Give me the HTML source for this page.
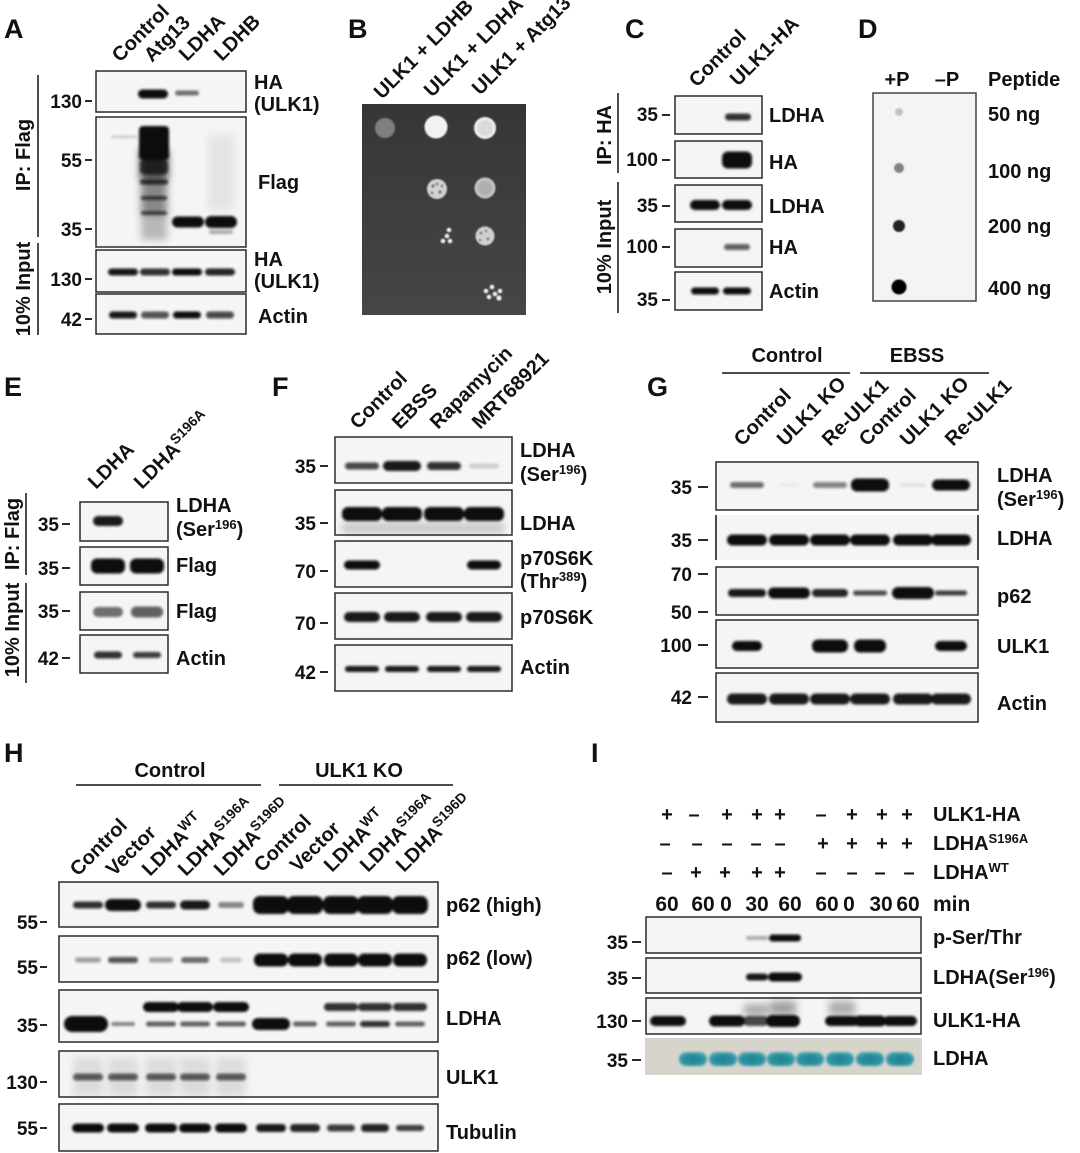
<!DOCTYPE html>
<html><head><meta charset="utf-8"><style>
html,body{margin:0;padding:0;background:#fff;}
svg{display:block;}
text{font-family:"Liberation Sans",Arial,sans-serif;font-weight:bold;font-size:20px;fill:#111;}
.P{font-size:27px;}
.m{font-size:19px;}
.bx{fill:#f5f5f5;stroke:#2a2a2a;stroke-width:1.5;}
.tk{stroke:#111;stroke-width:1.8;}
.ln{stroke:#111;stroke-width:1.5;}
.k rect{fill:#0a0a0a;}
</style></head><body>
<svg width="1080" height="1153" viewBox="0 0 1080 1153" xmlns="http://www.w3.org/2000/svg">
<defs>
<filter id="bl" filterUnits="userSpaceOnUse" x="0" y="0" width="1080" height="1153"><feGaussianBlur stdDeviation="1.3"/></filter>
<filter id="bs" filterUnits="userSpaceOnUse" x="0" y="0" width="1080" height="1153"><feGaussianBlur stdDeviation="4"/></filter>
<filter id="bd" filterUnits="userSpaceOnUse" x="0" y="0" width="1080" height="1153"><feGaussianBlur stdDeviation="0.7"/></filter>
<linearGradient id="pl" x1="0" y1="0" x2="0" y2="1"><stop offset="0" stop-color="#363636"/><stop offset="1" stop-color="#464646"/></linearGradient>
<radialGradient id="tg" cx="0.5" cy="0.55" r="0.6"><stop offset="0" stop-color="#1d7f8f"/><stop offset="0.7" stop-color="#2f95a3"/><stop offset="1" stop-color="#5fb0ba"/></radialGradient>
</defs>

<!-- ================= A ================= -->
<text class="P" x="4" y="38">A</text>
<text transform="translate(120,63) rotate(-45)">Control</text>
<text transform="translate(152,63) rotate(-45)">Atg13</text>
<text transform="translate(187,62) rotate(-45)">LDHA</text>
<text transform="translate(222,62) rotate(-45)">LDHB</text>
<rect class="bx" x="96" y="71" width="150" height="41"/>
<rect class="bx" x="96" y="117" width="150" height="130"/>
<rect class="bx" x="96" y="250" width="150" height="42"/>
<rect class="bx" x="96" y="294" width="150" height="40"/>
<g filter="url(#bs)" class="k">
<rect x="208" y="135" width="26" height="75" opacity="0.07"/>
<rect x="140" y="150" width="28" height="30" opacity="0.75"/>
<rect x="141" y="180" width="26" height="35" opacity="0.45"/>
<rect x="141" y="215" width="26" height="25" opacity="0.25"/>
</g>
<g filter="url(#bl)" class="k">
<rect x="138" y="89.5" width="30" height="9" rx="4.5"/>
<rect x="175" y="90.5" width="24" height="5" rx="2.5" opacity="0.55"/>
<rect x="111" y="135.5" width="26" height="3" rx="1.5" opacity="0.15"/>
<rect x="139" y="126" width="30" height="34" rx="4"/>
<rect x="140" y="160" width="28" height="14" rx="4" opacity="0.75"/>
<rect x="140" y="179.5" width="28" height="5" rx="2.5" opacity="0.75"/>
<rect x="141" y="196" width="26" height="4" rx="2" opacity="0.7"/>
<rect x="141" y="211" width="26" height="4" rx="2" opacity="0.6"/>
<rect x="172" y="216.5" width="32" height="11" rx="5.5"/>
<rect x="205" y="216" width="32" height="12" rx="6"/>
<rect x="209" y="230" width="24" height="4" rx="2" opacity="0.3"/>
<rect x="108" y="268.5" width="30" height="7" rx="3.5" opacity="0.95"/>
<rect x="140" y="268.5" width="30" height="7" rx="3.5" opacity="0.85"/>
<rect x="172" y="268.5" width="30" height="7" rx="3.5"/>
<rect x="205" y="268.5" width="30" height="7" rx="3.5" opacity="0.9"/>
<rect x="109" y="311.5" width="28" height="7" rx="3.5" opacity="0.95"/>
<rect x="141" y="311.5" width="28" height="7" rx="3.5" opacity="0.7"/>
<rect x="173" y="311.5" width="28" height="7" rx="3.5"/>
<rect x="206" y="311.5" width="28" height="7" rx="3.5" opacity="0.75"/>
</g>
<text class="m" x="82" y="108" text-anchor="end">130</text><line class="tk" x1="85" y1="101" x2="92" y2="101"/>
<text class="m" x="82" y="167" text-anchor="end">55</text><line class="tk" x1="85" y1="160" x2="92" y2="160"/>
<text class="m" x="82" y="236" text-anchor="end">35</text><line class="tk" x1="85" y1="229" x2="92" y2="229"/>
<text class="m" x="82" y="286" text-anchor="end">130</text><line class="tk" x1="85" y1="279" x2="92" y2="279"/>
<text class="m" x="82" y="326" text-anchor="end">42</text><line class="tk" x1="85" y1="319" x2="92" y2="319"/>
<line class="ln" x1="38" y1="75" x2="38" y2="237"/>
<line class="ln" x1="38" y1="243" x2="38" y2="335"/>
<text transform="translate(30,155) rotate(-90)" text-anchor="middle">IP: Flag</text>
<text transform="translate(30,289) rotate(-90)" text-anchor="middle">10% Input</text>
<text x="254" y="89">HA</text>
<text x="254" y="111">(ULK1)</text>
<text x="258" y="189">Flag</text>
<text x="254" y="266">HA</text>
<text x="254" y="288">(ULK1)</text>
<text x="258" y="323">Actin</text>

<!-- ================= B ================= -->
<text class="P" x="348" y="38">B</text>
<text transform="translate(382,100) rotate(-45)">ULK1 + LDHB</text>
<text transform="translate(432,98) rotate(-45)">ULK1 + LDHA</text>
<text transform="translate(480,96) rotate(-45)">ULK1 + Atg13</text>
<rect x="362" y="104" width="164" height="211" fill="url(#pl)"/>
<g filter="url(#bd)">
<circle cx="385" cy="128" r="10" fill="#7f7f7f"/>
<circle cx="436" cy="127" r="11.5" fill="#f2f2f2"/>
<circle cx="485" cy="128" r="11" fill="#efefef"/>
<circle cx="485" cy="128" r="8" fill="#dadada"/>
<circle cx="437" cy="189" r="10" fill="#d2d2d2"/>
<circle cx="433" cy="186" r="1.6" fill="#666"/><circle cx="440" cy="192" r="1.6" fill="#666"/><circle cx="437" cy="184" r="1.4" fill="#777"/><circle cx="432" cy="193" r="1.4" fill="#777"/><circle cx="442" cy="186" r="1.4" fill="#777"/>
<circle cx="485" cy="188" r="10.5" fill="#c4c4c4"/>
<circle cx="485" cy="188" r="7.5" fill="#b0b0b0"/>
<circle cx="449" cy="230" r="2.3" fill="#eee"/><circle cx="447" cy="236" r="2.3" fill="#eee"/><circle cx="443" cy="241" r="2.3" fill="#eee"/><circle cx="450" cy="241" r="2.3" fill="#eee"/>
<circle cx="485" cy="236" r="9.5" fill="#d0d0d0"/>
<circle cx="481" cy="233" r="1.5" fill="#777"/><circle cx="488" cy="239" r="1.5" fill="#777"/><circle cx="486" cy="231" r="1.3" fill="#777"/><circle cx="480" cy="240" r="1.3" fill="#777"/>
<circle cx="486" cy="291" r="2.3" fill="#eee"/><circle cx="492" cy="287" r="2.3" fill="#eee"/><circle cx="495" cy="294" r="2.3" fill="#eee"/><circle cx="489" cy="297" r="2.3" fill="#eee"/><circle cx="499" cy="298" r="2.6" fill="#eee"/><circle cx="500" cy="291" r="2.3" fill="#eee"/>
</g>

<!-- ================= C ================= -->
<text class="P" x="625" y="38">C</text>
<text transform="translate(697,88) rotate(-45)">Control</text>
<text transform="translate(738,87) rotate(-45)">ULK1-HA</text>
<rect class="bx" x="675" y="96" width="87" height="38"/>
<rect class="bx" x="675" y="141" width="87" height="37"/>
<rect class="bx" x="675" y="185" width="87" height="37"/>
<rect class="bx" x="675" y="229" width="87" height="38"/>
<rect class="bx" x="675" y="272" width="87" height="38"/>
<g filter="url(#bl)" class="k">
<rect x="725" y="113.5" width="26" height="7" rx="3.5" opacity="0.85"/>
<rect x="722" y="151.5" width="30" height="17" rx="6"/>
<rect x="690" y="200" width="30" height="10" rx="5"/>
<rect x="722" y="200" width="30" height="10" rx="5"/>
<rect x="724" y="244" width="26" height="6" rx="3" opacity="0.65"/>
<rect x="691" y="287.5" width="28" height="7" rx="3.5"/>
<rect x="723" y="287.5" width="28" height="7" rx="3.5"/>
</g>
<text class="m" x="658" y="121" text-anchor="end">35</text><line class="tk" x1="662" y1="115" x2="670" y2="115"/>
<text class="m" x="658" y="166" text-anchor="end">100</text><line class="tk" x1="662" y1="160" x2="670" y2="160"/>
<text class="m" x="658" y="212" text-anchor="end">35</text><line class="tk" x1="662" y1="206" x2="670" y2="206"/>
<text class="m" x="658" y="253" text-anchor="end">100</text><line class="tk" x1="662" y1="247" x2="670" y2="247"/>
<text class="m" x="658" y="306" text-anchor="end">35</text><line class="tk" x1="662" y1="300" x2="670" y2="300"/>
<line class="ln" x1="618" y1="93" x2="618" y2="173"/>
<line class="ln" x1="618" y1="182" x2="618" y2="313"/>
<text transform="translate(611,135) rotate(-90)" text-anchor="middle">IP: HA</text>
<text transform="translate(611,247) rotate(-90)" text-anchor="middle">10% Input</text>
<text x="769" y="122">LDHA</text>
<text x="769" y="169">HA</text>
<text x="769" y="213">LDHA</text>
<text x="769" y="254">HA</text>
<text x="769" y="298">Actin</text>

<!-- ================= D ================= -->
<text class="P" x="858" y="38">D</text>
<text x="897" y="86" text-anchor="middle">+P</text>
<text x="947" y="86" text-anchor="middle">–P</text>
<text x="988" y="86">Peptide</text>
<rect x="873" y="93" width="103" height="208" fill="#f4f4f4" stroke="#444" stroke-width="1.5"/>
<g filter="url(#bd)">
<circle cx="899" cy="112" r="4" fill="#999" opacity="0.55"/>
<circle cx="899" cy="168" r="5" fill="#666" opacity="0.8"/>
<circle cx="899" cy="226" r="6" fill="#222"/>
<circle cx="899" cy="287" r="7.5" fill="#000"/>
</g>
<text x="988" y="121">50 ng</text>
<text x="988" y="178">100 ng</text>
<text x="988" y="233">200 ng</text>
<text x="988" y="295">400 ng</text>

<!-- ================= E ================= -->
<text class="P" x="4" y="396">E</text>
<text transform="translate(96,490) rotate(-45)">LDHA</text>
<text transform="translate(142,490) rotate(-45)">LDHA<tspan font-size="14" dy="-8">S196A</tspan></text>
<rect class="bx" x="80" y="502" width="88" height="39"/>
<rect class="bx" x="80" y="547" width="88" height="38"/>
<rect class="bx" x="80" y="592" width="88" height="38"/>
<rect class="bx" x="80" y="635" width="88" height="38"/>
<g filter="url(#bl)" class="k">
<rect x="93" y="516" width="30" height="10" rx="5" opacity="0.95"/>
<rect x="91" y="558.5" width="34" height="15" rx="6"/>
<rect x="130" y="558.5" width="34" height="15" rx="6"/>
<rect x="93" y="607" width="30" height="10" rx="5" opacity="0.55"/>
<rect x="131" y="606.5" width="32" height="11" rx="5" opacity="0.65"/>
<rect x="94" y="651.5" width="28" height="7" rx="3.5" opacity="0.85"/>
<rect x="133" y="652" width="28" height="6" rx="3" opacity="0.8"/>
</g>
<text class="m" x="59" y="531" text-anchor="end">35</text><line class="tk" x1="62" y1="524" x2="70" y2="524"/>
<text class="m" x="59" y="575" text-anchor="end">35</text><line class="tk" x1="62" y1="568" x2="70" y2="568"/>
<text class="m" x="59" y="618" text-anchor="end">35</text><line class="tk" x1="62" y1="611" x2="70" y2="611"/>
<text class="m" x="59" y="665" text-anchor="end">42</text><line class="tk" x1="62" y1="658" x2="70" y2="658"/>
<line class="ln" x1="26" y1="493" x2="26" y2="575"/>
<line class="ln" x1="26" y1="583" x2="26" y2="683"/>
<text transform="translate(19,534) rotate(-90)" text-anchor="middle">IP: Flag</text>
<text transform="translate(19,630) rotate(-90)" text-anchor="middle">10% Input</text>
<text x="176" y="512">LDHA</text>
<text x="176" y="536">(Ser<tspan font-size="13" dy="-7">196</tspan><tspan dy="7">)</tspan></text>
<text x="176" y="572">Flag</text>
<text x="176" y="618">Flag</text>
<text x="176" y="665">Actin</text>

<!-- ================= F ================= -->
<text class="P" x="272" y="396">F</text>
<text transform="translate(358,430) rotate(-45)">Control</text>
<text transform="translate(400,430) rotate(-45)">EBSS</text>
<text transform="translate(438,430) rotate(-45)">Rapamycin</text>
<text transform="translate(480,430) rotate(-45)">MRT68921</text>
<rect class="bx" x="335" y="437" width="177" height="46"/>
<rect class="bx" x="335" y="490" width="177" height="45"/>
<rect class="bx" x="335" y="541" width="177" height="46"/>
<rect class="bx" x="335" y="593" width="177" height="46"/>
<rect class="bx" x="335" y="645" width="177" height="46"/>
<g filter="url(#bs)" class="k">
<rect x="342" y="523" width="162" height="10" opacity="0.2"/>
</g>
<g filter="url(#bl)" class="k">
<rect x="345" y="462.5" width="34" height="7" rx="3.5" opacity="0.75"/>
<rect x="383" y="461" width="38" height="10" rx="5" opacity="0.95"/>
<rect x="427" y="462" width="34" height="8" rx="4" opacity="0.85"/>
<rect x="469" y="463.5" width="30" height="5" rx="2.5" opacity="0.15"/>
<rect x="342" y="507" width="40" height="14" rx="6"/>
<rect x="382" y="507" width="40" height="14" rx="6"/>
<rect x="424" y="507" width="40" height="14" rx="6"/>
<rect x="464" y="507" width="40" height="14" rx="6"/>
<rect x="344" y="560.5" width="36" height="9" rx="4.5"/>
<rect x="467" y="560.5" width="34" height="9" rx="4.5"/>
<rect x="344" y="612" width="36" height="10" rx="5" opacity="0.95"/>
<rect x="384" y="612" width="36" height="10" rx="5" opacity="0.95"/>
<rect x="426" y="612" width="36" height="10" rx="5" opacity="0.95"/>
<rect x="466" y="612" width="36" height="10" rx="5" opacity="0.95"/>
<rect x="345" y="666" width="34" height="6" rx="3" opacity="0.95"/>
<rect x="385" y="666" width="34" height="6" rx="3" opacity="0.95"/>
<rect x="427" y="666" width="34" height="6" rx="3" opacity="0.95"/>
<rect x="467" y="666" width="34" height="6" rx="3" opacity="0.95"/>
</g>
<text class="m" x="316" y="473" text-anchor="end">35</text><line class="tk" x1="320" y1="466" x2="328" y2="466"/>
<text class="m" x="316" y="530" text-anchor="end">35</text><line class="tk" x1="320" y1="523" x2="328" y2="523"/>
<text class="m" x="316" y="578" text-anchor="end">70</text><line class="tk" x1="320" y1="571" x2="328" y2="571"/>
<text class="m" x="316" y="630" text-anchor="end">70</text><line class="tk" x1="320" y1="623" x2="328" y2="623"/>
<text class="m" x="316" y="679" text-anchor="end">42</text><line class="tk" x1="320" y1="672" x2="328" y2="672"/>
<text x="520" y="457">LDHA</text>
<text x="520" y="481">(Ser<tspan font-size="13" dy="-7">196</tspan><tspan dy="7">)</tspan></text>
<text x="520" y="530">LDHA</text>
<text x="520" y="565">p70S6K</text>
<text x="520" y="588">(Thr<tspan font-size="13" dy="-7">389</tspan><tspan dy="7">)</tspan></text>
<text x="520" y="624">p70S6K</text>
<text x="520" y="674">Actin</text>

<!-- ================= G ================= -->
<text class="P" x="647" y="396">G</text>
<text x="787" y="362" text-anchor="middle">Control</text>
<line class="ln" x1="722" y1="373" x2="850" y2="373"/>
<text x="917" y="362" text-anchor="middle">EBSS</text>
<line class="ln" x1="860" y1="373" x2="989" y2="373"/>
<text transform="translate(742,447) rotate(-45)">Control</text>
<text transform="translate(785,447) rotate(-45)">ULK1 KO</text>
<text transform="translate(830,447) rotate(-45)">Re-ULK1</text>
<text transform="translate(867,447) rotate(-45)">Control</text>
<text transform="translate(908,447) rotate(-45)">ULK1 KO</text>
<text transform="translate(953,447) rotate(-45)">Re-ULK1</text>
<rect class="bx" x="716" y="462" width="262" height="48"/>
<rect x="716" y="515" width="262" height="45" fill="#f5f5f5"/>
<line class="ln" x1="716" y1="515" x2="716" y2="560"/>
<line class="ln" x1="978" y1="515" x2="978" y2="560"/>
<rect class="bx" x="716" y="567" width="262" height="48"/>
<rect class="bx" x="716" y="620" width="262" height="48"/>
<rect class="bx" x="716" y="673" width="262" height="49"/>
<g filter="url(#bl)" class="k">
<rect x="730" y="482" width="34" height="6" rx="3" opacity="0.55"/>
<rect x="779" y="483.5" width="20" height="3" rx="1.5" opacity="0.05"/>
<rect x="813" y="482" width="34" height="6" rx="3" opacity="0.45"/>
<rect x="851" y="478.5" width="38" height="13" rx="6"/>
<rect x="900" y="483" width="26" height="4" rx="2" opacity="0.08"/>
<rect x="932" y="479.5" width="38" height="11" rx="5.5"/>
<rect x="727" y="534.5" width="40" height="11" rx="5.5"/>
<rect x="769" y="534.5" width="40" height="11" rx="5.5"/>
<rect x="810" y="534.5" width="40" height="11" rx="5.5"/>
<rect x="850" y="534.5" width="40" height="11" rx="5.5"/>
<rect x="893" y="534.5" width="40" height="11" rx="5.5"/>
<rect x="931" y="534.5" width="40" height="11" rx="5.5"/>
<rect x="728" y="589" width="38" height="8" rx="4" opacity="0.95"/>
<rect x="768" y="587.5" width="42" height="11" rx="5.5"/>
<rect x="812" y="589" width="36" height="8" rx="4" opacity="0.9"/>
<rect x="853" y="590.5" width="34" height="5" rx="2.5" opacity="0.75"/>
<rect x="892" y="587" width="42" height="12" rx="6"/>
<rect x="935" y="590.5" width="32" height="5" rx="2.5" opacity="0.8"/>
<rect x="732" y="641" width="30" height="10" rx="5"/>
<rect x="812" y="639.5" width="36" height="13" rx="6"/>
<rect x="854" y="639.5" width="32" height="13" rx="6"/>
<rect x="935" y="641" width="32" height="10" rx="5"/>
<rect x="727" y="693.5" width="40" height="11" rx="5.5" opacity="0.95"/>
<rect x="769" y="693.5" width="40" height="11" rx="5.5" opacity="0.95"/>
<rect x="810" y="693.5" width="40" height="11" rx="5.5" opacity="0.95"/>
<rect x="850" y="693.5" width="40" height="11" rx="5.5" opacity="0.95"/>
<rect x="893" y="693.5" width="40" height="11" rx="5.5" opacity="0.95"/>
<rect x="931" y="693.5" width="40" height="11" rx="5.5" opacity="0.95"/>
</g>
<text class="m" x="692" y="494" text-anchor="end">35</text><line class="tk" x1="698" y1="487" x2="708" y2="487"/>
<text class="m" x="692" y="547" text-anchor="end">35</text><line class="tk" x1="698" y1="540" x2="708" y2="540"/>
<text class="m" x="692" y="581" text-anchor="end">70</text><line class="tk" x1="698" y1="574" x2="708" y2="574"/>
<text class="m" x="692" y="619" text-anchor="end">50</text><line class="tk" x1="698" y1="612" x2="708" y2="612"/>
<text class="m" x="692" y="652" text-anchor="end">100</text><line class="tk" x1="698" y1="645" x2="708" y2="645"/>
<text class="m" x="692" y="704" text-anchor="end">42</text><line class="tk" x1="698" y1="697" x2="708" y2="697"/>
<text x="997" y="482">LDHA</text>
<text x="997" y="506">(Ser<tspan font-size="13" dy="-7">196</tspan><tspan dy="7">)</tspan></text>
<text x="997" y="545">LDHA</text>
<text x="997" y="603">p62</text>
<text x="997" y="653">ULK1</text>
<text x="997" y="710">Actin</text>

<!-- ================= H ================= -->
<text class="P" x="4" y="762">H</text>
<text x="170" y="777" text-anchor="middle">Control</text>
<line class="ln" x1="76" y1="785" x2="261" y2="785"/>
<text x="359" y="777" text-anchor="middle">ULK1 KO</text>
<line class="ln" x1="279" y1="785" x2="453" y2="785"/>
<text transform="translate(78,877) rotate(-45)">Control</text>
<text transform="translate(114,877) rotate(-45)">Vector</text>
<text transform="translate(150,877) rotate(-45)">LDHA<tspan font-size="14" dy="-8">WT</tspan></text>
<text transform="translate(186,877) rotate(-45)">LDHA<tspan font-size="14" dy="-8">S196A</tspan></text>
<text transform="translate(222,877) rotate(-45)">LDHA<tspan font-size="14" dy="-8">S196D</tspan></text>
<text transform="translate(262,873) rotate(-45)">Control</text>
<text transform="translate(298,873) rotate(-45)">Vector</text>
<text transform="translate(332,873) rotate(-45)">LDHA<tspan font-size="14" dy="-8">WT</tspan></text>
<text transform="translate(368,873) rotate(-45)">LDHA<tspan font-size="14" dy="-8">S196A</tspan></text>
<text transform="translate(404,873) rotate(-45)">LDHA<tspan font-size="14" dy="-8">S196D</tspan></text>
<rect class="bx" x="59" y="882" width="379" height="45"/>
<rect class="bx" x="59" y="936" width="379" height="46"/>
<rect class="bx" x="59" y="990" width="379" height="52"/>
<rect class="bx" x="59" y="1051" width="379" height="46"/>
<rect class="bx" x="59" y="1104" width="379" height="47"/>
<g filter="url(#bs)" class="k">
<rect x="73" y="1057" width="30" height="40" opacity="0.1"/>
<rect x="108" y="1057" width="30" height="40" opacity="0.1"/>
<rect x="146" y="1057" width="30" height="40" opacity="0.1"/>
<rect x="180" y="1057" width="30" height="40" opacity="0.1"/>
<rect x="216" y="1057" width="30" height="40" opacity="0.1"/>
</g>
<g filter="url(#bl)" class="k">
<rect x="73" y="901.5" width="30" height="7" rx="3.5" opacity="0.85"/>
<rect x="105" y="899" width="36" height="12" rx="6"/>
<rect x="146" y="901.5" width="30" height="7" rx="3.5" opacity="0.85"/>
<rect x="180" y="900.5" width="30" height="9" rx="4.5" opacity="0.95"/>
<rect x="218" y="902" width="26" height="6" rx="3" opacity="0.45"/>
<rect x="253" y="896" width="36" height="18" rx="7"/>
<rect x="287" y="896" width="36" height="18" rx="7"/>
<rect x="323" y="896" width="36" height="18" rx="7"/>
<rect x="357" y="896" width="36" height="18" rx="7"/>
<rect x="392" y="896" width="36" height="18" rx="7"/>
<rect x="75" y="957.5" width="26" height="5" rx="2.5" opacity="0.35"/>
<rect x="108" y="957" width="30" height="6" rx="3" opacity="0.7"/>
<rect x="149" y="957.5" width="24" height="5" rx="2.5" opacity="0.35"/>
<rect x="181" y="957" width="28" height="6" rx="3" opacity="0.55"/>
<rect x="220" y="957.5" width="22" height="5" rx="2.5" opacity="0.2"/>
<rect x="254" y="953.5" width="34" height="13" rx="6"/>
<rect x="288" y="953.5" width="34" height="13" rx="6"/>
<rect x="324" y="953.5" width="34" height="13" rx="6"/>
<rect x="358" y="953.5" width="34" height="13" rx="6"/>
<rect x="393" y="953.5" width="34" height="13" rx="6"/>
<rect x="143" y="1002" width="36" height="10" rx="5"/>
<rect x="177" y="1002" width="36" height="10" rx="5"/>
<rect x="213" y="1002" width="36" height="10" rx="5"/>
<rect x="324" y="1003" width="34" height="8" rx="4" opacity="0.85"/>
<rect x="358" y="1003" width="34" height="8" rx="4" opacity="0.85"/>
<rect x="393" y="1003" width="34" height="8" rx="4" opacity="0.85"/>
<rect x="64" y="1016" width="44" height="16" rx="8"/>
<rect x="111" y="1022" width="24" height="4" rx="2" opacity="0.45"/>
<rect x="146" y="1021.5" width="30" height="5" rx="2.5" opacity="0.6"/>
<rect x="180" y="1021.5" width="30" height="5" rx="2.5" opacity="0.6"/>
<rect x="216" y="1021.5" width="30" height="5" rx="2.5" opacity="0.6"/>
<rect x="252" y="1018" width="38" height="12" rx="6"/>
<rect x="293" y="1021.5" width="24" height="5" rx="2.5" opacity="0.6"/>
<rect x="326" y="1021.5" width="30" height="5" rx="2.5" opacity="0.65"/>
<rect x="360" y="1021" width="30" height="6" rx="3" opacity="0.85"/>
<rect x="395" y="1021.5" width="30" height="5" rx="2.5" opacity="0.6"/>
<rect x="73" y="1073.5" width="30" height="7" rx="3.5" opacity="0.65"/>
<rect x="108" y="1073.5" width="30" height="7" rx="3.5" opacity="0.65"/>
<rect x="146" y="1073.5" width="30" height="7" rx="3.5" opacity="0.65"/>
<rect x="180" y="1073.5" width="30" height="7" rx="3.5" opacity="0.65"/>
<rect x="216" y="1073.5" width="30" height="7" rx="3.5" opacity="0.65"/>
<rect x="72" y="1123.5" width="32" height="9" rx="4.5"/>
<rect x="107" y="1123.5" width="32" height="9" rx="4.5"/>
<rect x="145" y="1123.5" width="32" height="9" rx="4.5"/>
<rect x="179" y="1123.5" width="32" height="9" rx="4.5"/>
<rect x="215" y="1123.5" width="32" height="9" rx="4.5"/>
<rect x="256" y="1124" width="30" height="8" rx="4" opacity="0.95"/>
<rect x="290" y="1124" width="30" height="8" rx="4" opacity="0.9"/>
<rect x="327" y="1124.5" width="28" height="7" rx="3.5" opacity="0.8"/>
<rect x="361" y="1124" width="28" height="8" rx="4" opacity="0.9"/>
<rect x="396" y="1125" width="28" height="6" rx="3" opacity="0.8"/>
</g>
<text class="m" x="38" y="929" text-anchor="end">55</text><line class="tk" x1="40" y1="922" x2="47" y2="922"/>
<text class="m" x="38" y="974" text-anchor="end">55</text><line class="tk" x1="40" y1="967" x2="47" y2="967"/>
<text class="m" x="38" y="1032" text-anchor="end">35</text><line class="tk" x1="40" y1="1025" x2="47" y2="1025"/>
<text class="m" x="38" y="1089" text-anchor="end">130</text><line class="tk" x1="40" y1="1082" x2="47" y2="1082"/>
<text class="m" x="38" y="1135" text-anchor="end">55</text><line class="tk" x1="40" y1="1128" x2="47" y2="1128"/>
<text x="446" y="912">p62 (high)</text>
<text x="446" y="965">p62 (low)</text>
<text x="446" y="1025">LDHA</text>
<text x="446" y="1084">ULK1</text>
<text x="446" y="1139">Tubulin</text>

<!-- ================= I ================= -->
<text class="P" x="591" y="762">I</text>
<g font-size="22" text-anchor="middle">
<text x="667" y="821">+</text><text x="694" y="821">–</text><text x="727" y="821">+</text><text x="757" y="821">+</text><text x="780" y="821">+</text><text x="821" y="821">–</text><text x="852" y="821">+</text><text x="882" y="821">+</text><text x="907" y="821">+</text>
<text x="665" y="850">–</text><text x="697" y="850">–</text><text x="727" y="850">–</text><text x="756" y="850">–</text><text x="780" y="850">–</text><text x="823" y="850">+</text><text x="852" y="850">+</text><text x="882" y="850">+</text><text x="907" y="850">+</text>
<text x="667" y="879">–</text><text x="696" y="879">+</text><text x="725" y="879">+</text><text x="757" y="879">+</text><text x="780" y="879">+</text><text x="821" y="879">–</text><text x="852" y="879">–</text><text x="880" y="879">–</text><text x="909" y="879">–</text>
</g>
<g text-anchor="middle">
<text x="667" y="911" style="font-size:21px">60</text><text x="703" y="911" style="font-size:21px">60</text><text x="726" y="911" style="font-size:21px">0</text><text x="757" y="911" style="font-size:21px">30</text><text x="790" y="911" style="font-size:21px">60</text><text x="827" y="911" style="font-size:21px">60</text><text x="849" y="911" style="font-size:21px">0</text><text x="881" y="911" style="font-size:21px">30</text><text x="908" y="911" style="font-size:21px">60</text>
</g>
<text x="933" y="821">ULK1-HA</text>
<text x="933" y="850">LDHA<tspan font-size="13" dy="-7">S196A</tspan></text>
<text x="933" y="879">LDHA<tspan font-size="13" dy="-7">WT</tspan></text>
<text x="933" y="911" style="font-size:21px">min</text>
<rect class="bx" x="646" y="917" width="275" height="36"/>
<rect class="bx" x="646" y="958" width="275" height="35"/>
<rect class="bx" x="646" y="998" width="275" height="36"/>
<rect x="645" y="1038" width="277" height="37" fill="#d7d4cc"/>
<g filter="url(#bs)" class="k">
<rect x="744" y="1004" width="24" height="12" opacity="0.3"/>
<rect x="770" y="1001" width="26" height="14" opacity="0.35"/>
<rect x="829" y="1001" width="26" height="14" opacity="0.3"/>
</g>
<g filter="url(#bl)" class="k">
<rect x="746" y="936" width="22" height="4" rx="2" opacity="0.3"/>
<rect x="769" y="934.5" width="32" height="7" rx="3.5"/>
<rect x="746" y="973.5" width="22" height="7" rx="3.5" opacity="0.95"/>
<rect x="768" y="972.5" width="34" height="9" rx="4.5"/>
<rect x="650" y="1016" width="36" height="10" rx="5"/>
<rect x="709" y="1015.5" width="36" height="11" rx="5.5"/>
<rect x="743" y="1016" width="26" height="10" rx="5" opacity="0.75"/>
<rect x="766" y="1015" width="34" height="12" rx="6"/>
<rect x="825" y="1016" width="34" height="10" rx="5"/>
<rect x="854" y="1015.5" width="32" height="11" rx="5.5"/>
<rect x="883" y="1016" width="34" height="10" rx="5"/>
</g>
<g filter="url(#bl)" fill="url(#tg)">
<rect x="679" y="1052" width="28" height="14" rx="7"/>
<rect x="709" y="1052" width="28" height="14" rx="7"/>
<rect x="738" y="1052" width="28" height="14" rx="7"/>
<rect x="767" y="1052" width="28" height="14" rx="7"/>
<rect x="796" y="1052" width="28" height="14" rx="7"/>
<rect x="826" y="1052" width="28" height="14" rx="7"/>
<rect x="856" y="1052" width="28" height="14" rx="7"/>
<rect x="886" y="1052" width="28" height="14" rx="7"/>
</g>
<text class="m" x="628" y="949" text-anchor="end">35</text><line class="tk" x1="632" y1="942" x2="641" y2="942"/>
<text class="m" x="628" y="985" text-anchor="end">35</text><line class="tk" x1="632" y1="978" x2="641" y2="978"/>
<text class="m" x="628" y="1028" text-anchor="end">130</text><line class="tk" x1="632" y1="1021" x2="641" y2="1021"/>
<text class="m" x="628" y="1067" text-anchor="end">35</text><line class="tk" x1="632" y1="1060" x2="641" y2="1060"/>
<text x="933" y="944">p-Ser/Thr</text>
<text x="933" y="984">LDHA(Ser<tspan font-size="13" dy="-7">196</tspan><tspan dy="7">)</tspan></text>
<text x="933" y="1027">ULK1-HA</text>
<text x="933" y="1065">LDHA</text>
</svg>
</body></html>
